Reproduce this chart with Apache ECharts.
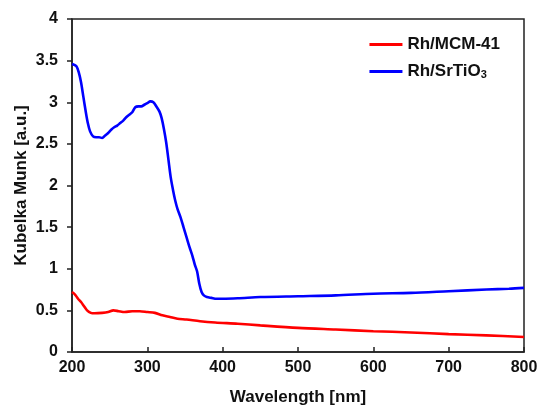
<!DOCTYPE html>
<html>
<head>
<meta charset="utf-8">
<script src="https://cdn.jsdelivr.net/npm/echarts@6/dist/echarts.min.js"></script>
<style>
  html, body { margin: 0; padding: 0; background: #fff; }
  #chart { width: 539px; height: 406px; }
</style>
</head>
<body>
<div id="chart"></div>
<script>
// Diffuse reflectance spectra (Kubelka-Munk) of two supported Rh catalysts
const wavelengthMCM = [200, 204, 208, 212, 216, 220, 225, 230, 240, 248, 255, 262, 270, 280, 290, 300, 310, 320, 330, 340, 352, 370, 390, 420, 450, 500, 550, 600, 650, 700, 750, 800];
const kmMCM = [0.72, 0.69, 0.64, 0.60, 0.55, 0.50, 0.47, 0.465, 0.47, 0.48, 0.50, 0.49, 0.48, 0.49, 0.49, 0.48, 0.47, 0.44, 0.42, 0.40, 0.39, 0.37, 0.355, 0.34, 0.32, 0.29, 0.27, 0.25, 0.235, 0.215, 0.20, 0.18];

const wavelengthSrTiO3 = [200, 203, 206, 209, 212, 215, 218, 221, 224, 228, 232, 236, 240, 244, 248, 252, 256, 260, 264, 268, 272, 276, 280, 284, 288, 292, 296, 300, 304, 308, 312, 316, 319, 322, 325, 328, 331, 334, 337, 340, 344, 348, 352, 356, 360, 363, 366, 369, 372, 375, 379, 385, 392, 400, 420, 450, 500, 550, 600, 650, 700, 750, 780, 800];
const kmSrTiO3 = [3.46, 3.45, 3.43, 3.36, 3.24, 3.07, 2.90, 2.75, 2.65, 2.59, 2.58, 2.58, 2.57, 2.60, 2.63, 2.67, 2.70, 2.72, 2.75, 2.78, 2.82, 2.85, 2.88, 2.94, 2.95, 2.95, 2.97, 2.99, 3.01, 3.00, 2.95, 2.89, 2.81, 2.68, 2.52, 2.31, 2.10, 1.95, 1.82, 1.72, 1.62, 1.50, 1.38, 1.26, 1.15, 1.05, 0.97, 0.82, 0.72, 0.68, 0.66, 0.65, 0.64, 0.64, 0.645, 0.66, 0.67, 0.68, 0.70, 0.71, 0.73, 0.75, 0.76, 0.77];

const seriesNames = ['Rh/MCM-41', 'Rh/SrTiO3'];

function pairs(xs, ys) {
  return xs.map((x, i) => [x, ys[i]]);
}

const font = 'Arial, "Liberation Sans", sans-serif';
const axisColor = '#222';
const textColor = '#111';

const chart = echarts.init(document.getElementById('chart'), null, { renderer: 'canvas' });
chart.setOption({
  animation: false,
  backgroundColor: '#fff',
  grid: {
    left: 72, right: 15, top: 19, bottom: 54,
    containLabel: false,
    outerBoundsMode: 'none',
    show: true, borderColor: axisColor, borderWidth: 1.5, backgroundColor: 'transparent'
  },
  legend: {
    right: 34, top: 31,
    orient: 'vertical',
    itemGap: 10,
    itemWidth: 33,
    itemHeight: 3,
    icon: 'rect',
    textStyle: {
      fontFamily: font, fontSize: 17, fontWeight: 'bold', color: textColor,
      rich: {
        b: { fontFamily: font, fontSize: 17, fontWeight: 'bold', color: textColor },
        s: { fontFamily: font, fontSize: 11, fontWeight: 'bold', color: textColor, verticalAlign: 'bottom', padding: [7, 0, 0, 0] }
      }
    },
    formatter: function (name) {
      if (name === 'Rh/SrTiO3') return '{b|Rh/SrTiO}{s|3}';
      return '{b|' + name + '}';
    },
    data: seriesNames
  },
  xAxis: {
    type: 'value',
    min: 200, max: 800, interval: 100,
    name: 'Wavelength [nm]',
    nameLocation: 'middle',
    nameGap: 37,
    nameMoveOverlap: false,
    nameTextStyle: { fontFamily: font, fontSize: 17, fontWeight: 'bold', color: textColor },
    axisLine: { lineStyle: { color: axisColor, width: 1.5 } },
    axisTick: { inside: true, length: 5, lineStyle: { color: axisColor, width: 1.5 } },
    axisLabel: { fontFamily: font, fontSize: 16, fontWeight: 'bold', color: textColor, margin: 8 },
    splitLine: { show: false }
  },
  yAxis: {
    type: 'value',
    min: 0, max: 4, interval: 0.5,
    name: 'Kubelka Munk [a.u.]',
    nameLocation: 'middle',
    nameGap: 42,
    nameRotate: 90,
    nameMoveOverlap: false,
    nameTextStyle: { fontFamily: font, fontSize: 17, fontWeight: 'bold', color: textColor },
    axisLine: { show: true, lineStyle: { color: axisColor, width: 1.5 } },
    axisTick: { show: true, inside: false, length: 5, lineStyle: { color: axisColor, width: 1.5 } },
    axisLabel: { fontFamily: font, fontSize: 16, fontWeight: 'bold', color: textColor, margin: 14 },
    splitLine: { show: false }
  },
  series: [
    {
      name: seriesNames[0],
      type: 'line',
      data: pairs(wavelengthMCM, kmMCM),
      showSymbol: false,
      symbol: 'none',
      smooth: 0.3,
      lineStyle: { color: '#ff0000', width: 2.6 },
      itemStyle: { color: '#ff0000' }
    },
    {
      name: seriesNames[1],
      type: 'line',
      data: pairs(wavelengthSrTiO3, kmSrTiO3),
      showSymbol: false,
      symbol: 'none',
      smooth: 0.3,
      lineStyle: { color: '#0000ff', width: 2.6 },
      itemStyle: { color: '#0000ff' }
    }
  ]
});
</script>
</body>
</html>
